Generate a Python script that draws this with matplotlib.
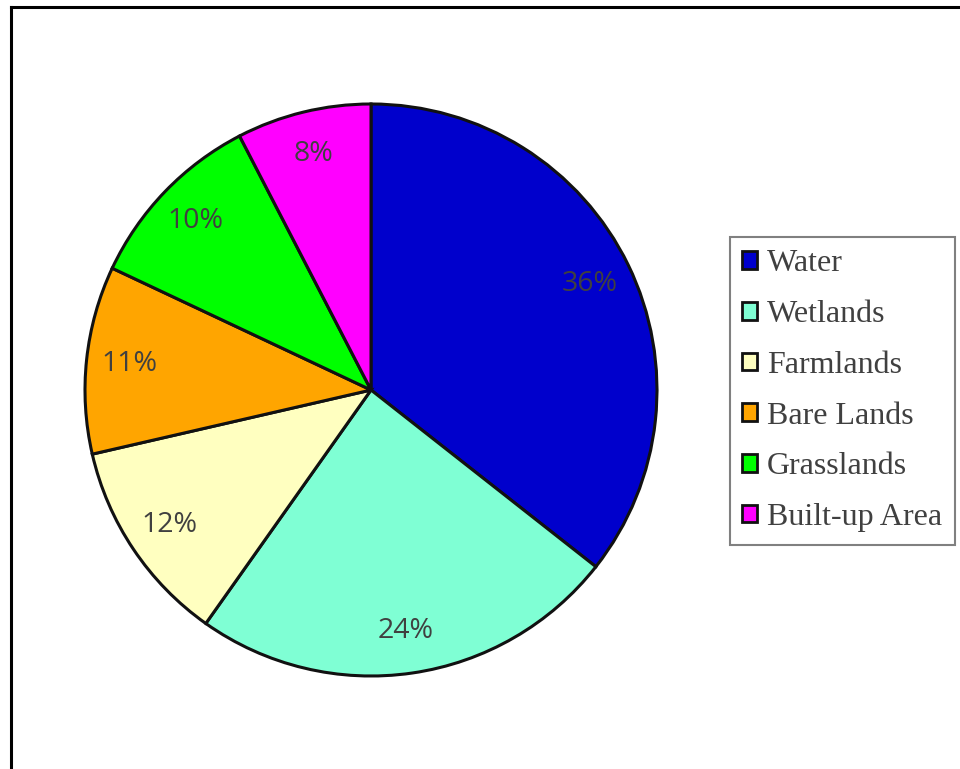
import matplotlib
matplotlib.use("Agg")
import matplotlib.pyplot as plt
from matplotlib.lines import Line2D

# Land cover shares (%)
categories = ["Water", "Wetlands", "Farmlands", "Bare Lands", "Grasslands", "Built-up Area"]
shares = [35.6, 24.2, 11.6, 10.6, 10.4, 7.6]
colors = ["#0000CC", "#7FFFD4", "#FFFFC0", "#FFA500", "#00FF00", "#FF00FF"]

W, H = 960, 769
fig = plt.figure(figsize=(W / 100, H / 100), dpi=100)

# outer frame (left and top edges visible)
fig.add_artist(Line2D([11 / W, 11 / W], [0, 1 - 7 / H], color="black", lw=2.2,
                      transform=fig.transFigure))
fig.add_artist(Line2D([11 / W, 1], [1 - 7 / H, 1 - 7 / H], color="black", lw=2.2,
                      transform=fig.transFigure))

# pie axes: centre (371, 390) px, radius 286 px
cx, cy, r = 371, 390, 286
half = r * 1.1
ax = fig.add_axes([(cx - half) / W, 1 - (cy + half) / H, 2 * half / W, 2 * half / H])
wedges, _, autotexts = ax.pie(
    shares, colors=colors, startangle=90, counterclock=False,
    autopct="%.0f%%", pctdistance=0.85,
    wedgeprops=dict(edgecolor="#111111", linewidth=2.2),
    textprops=dict(color="#404040", fontsize=20.5, family="Open Sans"),
)
ax.set_xlim(-1.1, 1.1)
ax.set_ylim(-1.1, 1.1)
ax.set_aspect("equal")
ax.axis("off")

leg = ax.legend(
    wedges, categories, loc="upper left",
    bbox_to_anchor=(730 / W, 1 - 237 / H), bbox_transform=fig.transFigure,
    borderaxespad=0, frameon=True, fancybox=False,
    prop=dict(family="Liberation Serif", size=23),
    labelcolor="#404040", handlelength=0.47, handleheight=0.47,
    handletextpad=0.3, labelspacing=0.68, borderpad=0.39,
)
leg.get_frame().set_edgecolor("#606060")
leg.get_frame().set_linewidth(1.5)
for h in leg.legend_handles:
    h.set_edgecolor("#111111")
    h.set_linewidth(2.0)

fig.savefig("out.png", dpi=100)
